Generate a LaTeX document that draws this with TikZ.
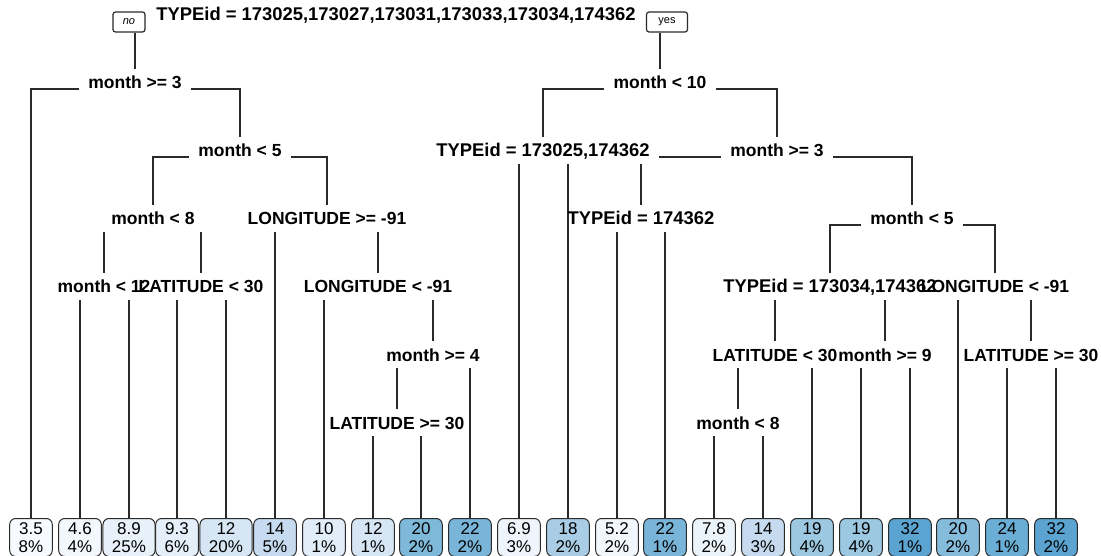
\documentclass[tikz,border=0pt]{standalone}
\usepackage{fontspec}
\setmainfont{Liberation Sans}
\usetikzlibrary{backgrounds}
\definecolor{lineclr}{HTML}{2A2A2A}
\definecolor{cA}{HTML}{F7FBFF}
\definecolor{cB}{HTML}{F3F8FE}
\definecolor{cC}{HTML}{E8F1FA}
\definecolor{cD}{HTML}{E5EFF9}
\definecolor{cE}{HTML}{D6E6F4}
\definecolor{cF}{HTML}{C6DBEF}
\definecolor{cG}{HTML}{E1EDF8}
\definecolor{cH}{HTML}{7FB9DA}
\definecolor{cI}{HTML}{78B5D8}
\definecolor{cJ}{HTML}{EEF5FC}
\definecolor{cK}{HTML}{A8CDE5}
\definecolor{cL}{HTML}{F2F7FD}
\definecolor{cM}{HTML}{ECF4FB}
\definecolor{cN}{HTML}{9CC9E1}
\definecolor{cO}{HTML}{5BA3D0}
\definecolor{cP}{HTML}{85BCDC}
\definecolor{cQ}{HTML}{6AAED6}
\begin{document}
\begin{tikzpicture}[x=1pt,y=-1pt,
  split/.style={anchor=base, font=\fontsize{17.5}{20}\bfseries, text height=13pt, text depth=0pt, inner xsep=9pt, inner ysep=7pt},
  tsplit/.style={split, font=\fontsize{18.4}{20}\bfseries},
  leaf/.style={anchor=north, draw=lineclr, line width=1pt, rounded corners=6pt, minimum height=38pt, minimum width=41pt, inner xsep=9pt, inner ysep=2pt, align=center, font=\fontsize{17}{17.5}\selectfont},
  edge/.style={draw=lineclr, line width=2pt},
  yn/.style={draw=lineclr, line width=1.2pt, rounded corners=2.5pt, font=\fontsize{11}{12}\selectfont, minimum height=20pt, inner xsep=4pt, inner ysep=0pt}
]
\useasboundingbox (0,0) rectangle (1101,556);
\begin{scope}[on background layer]
\fill[white] (0,0) rectangle (1101,556);
\end{scope}

% root
\node[tsplit] (root) at (396,21) {TYPEid = 173025,173027,173031,173033,173034,174362};
\node[yn, minimum width=32pt] (no) at (129,22) {\itshape no};
\node[yn, minimum width=41pt] (yes) at (667,22) {yes};

% level 1
\node[split] (I) at (135,89) {month >= 3};
\node[split] (U) at (660,89) {month < 10};
% level 2
\node[split] (H) at (240,157) {month < 5};
\node[tsplit, fill=white] (J) at (543,157) {TYPEid = 173025,174362};
\node[split] (T) at (777,157) {month >= 3};
% level 3
\node[split] (C) at (153,225) {month < 8};
\node[split] (G) at (327,225) {LONGITUDE >= -91};
\node[tsplit] (K) at (641,225) {TYPEid = 174362};
\node[split] (S) at (912,225) {month < 5};
% level 4
\node[split] (A) at (104,293) {month < 12};
\node[split] (B) at (201,293) {LATITUDE < 30};
\node[split] (F) at (378,293) {LONGITUDE < -91};
\node[tsplit] (P) at (830,293) {TYPEid = 173034,174362};
\node[split] (R) at (995,293) {LONGITUDE < -91};
% level 5
\node[split] (E) at (433,361) {month >= 4};
\node[split] (N) at (775,361) {LATITUDE < 30};
\node[split] (O) at (885,361) {month >= 9};
\node[split] (Q) at (1031,361) {LATITUDE >= 30};
% level 6
\node[split] (D) at (397,429) {LATITUDE >= 30};
\node[split] (M) at (738,429) {month < 8};

% leaves
\node[leaf, fill=cA] (l0)  at (31,518)   {3.5\\8\%};
\node[leaf, fill=cB] (l1)  at (80,518)   {4.6\\4\%};
\node[leaf, fill=cC] (l2)  at (129,518)  {8.9\\25\%};
\node[leaf, fill=cD] (l3)  at (177,518)  {9.3\\6\%};
\node[leaf, fill=cE] (l4)  at (226,518)  {12\\20\%};
\node[leaf, fill=cF] (l5)  at (275,518)  {14\\5\%};
\node[leaf, fill=cG] (l6)  at (324,518)  {10\\1\%};
\node[leaf, fill=cE] (l7)  at (373,518)  {12\\1\%};
\node[leaf, fill=cH] (l8)  at (421,518)  {20\\2\%};
\node[leaf, fill=cI] (l9)  at (470,518)  {22\\2\%};
\node[leaf, fill=cJ] (l10) at (519,518)  {6.9\\3\%};
\node[leaf, fill=cK] (l11) at (568,518)  {18\\2\%};
\node[leaf, fill=cL] (l12) at (617,518)  {5.2\\2\%};
\node[leaf, fill=cI] (l13) at (665,518)  {22\\1\%};
\node[leaf, fill=cM] (l14) at (714,518)  {7.8\\2\%};
\node[leaf, fill=cF] (l15) at (763,518)  {14\\3\%};
\node[leaf, fill=cN] (l16) at (812,518)  {19\\4\%};
\node[leaf, fill=cN] (l17) at (861,518)  {19\\4\%};
\node[leaf, fill=cO] (l18) at (910,518)  {32\\1\%};
\node[leaf, fill=cP] (l19) at (958,518)  {20\\2\%};
\node[leaf, fill=cQ] (l20) at (1007,518) {24\\1\%};
\node[leaf, fill=cO] (l21) at (1056,518) {32\\2\%};

\begin{scope}[on background layer]
% root branches
\draw[edge] (no.south -| I.north) -- (I.north);
\draw[edge] (yes.south -| U.north) -- (U.north);
% left subtree
\draw[edge] (I.base west) -| (l0.north);
\draw[edge] (I.base east) -| (H.north);
\draw[edge] (H.base west) -| (C.north);
\draw[edge] (H.base east) -| (G.north);
\draw[edge] (C.south -| A.north) -- (A.north);
\draw[edge] (C.south -| B.north) -- (B.north);
\draw[edge] (A.south -| l1.north) -- (l1.north);
\draw[edge] (A.south -| l2.north) -- (l2.north);
\draw[edge] (B.south -| l3.north) -- (l3.north);
\draw[edge] (B.south -| l4.north) -- (l4.north);
\draw[edge] (G.south -| l5.north) -- (l5.north);
\draw[edge] (G.south -| F.north) -- (F.north);
\draw[edge] (F.south -| l6.north) -- (l6.north);
\draw[edge] (F.south -| E.north) -- (E.north);
\draw[edge] (E.south -| D.north) -- (D.north);
\draw[edge] (E.south -| l9.north) -- (l9.north);
\draw[edge] (D.south -| l7.north) -- (l7.north);
\draw[edge] (D.south -| l8.north) -- (l8.north);
% right subtree
\draw[edge] (U.base west) -| (J.north);
\draw[edge] (U.base east) -| (T.north);
\draw[edge] (J.south -| l10.north) -- (l10.north);
\draw[edge] (J.south -| l11.north) -- (l11.north);
\draw[edge] (T.base west) -| (K.north);
\draw[edge] (T.base east) -| (S.north);
\draw[edge] (K.south -| l12.north) -- (l12.north);
\draw[edge] (K.south -| l13.north) -- (l13.north);
\draw[edge] (S.base west) -| (P.north);
\draw[edge] (S.base east) -| (R.north);
\draw[edge] (P.south -| N.north) -- (N.north);
\draw[edge] (P.south -| O.north) -- (O.north);
\draw[edge] (N.south -| M.north) -- (M.north);
\draw[edge] (N.south -| l16.north) -- (l16.north);
\draw[edge] (M.south -| l14.north) -- (l14.north);
\draw[edge] (M.south -| l15.north) -- (l15.north);
\draw[edge] (O.south -| l17.north) -- (l17.north);
\draw[edge] (O.south -| l18.north) -- (l18.north);
\draw[edge] (R.south -| l19.north) -- (l19.north);
\draw[edge] (R.south -| Q.north) -- (Q.north);
\draw[edge] (Q.south -| l20.north) -- (l20.north);
\draw[edge] (Q.south -| l21.north) -- (l21.north);
\end{scope}
\end{tikzpicture}
\end{document}
